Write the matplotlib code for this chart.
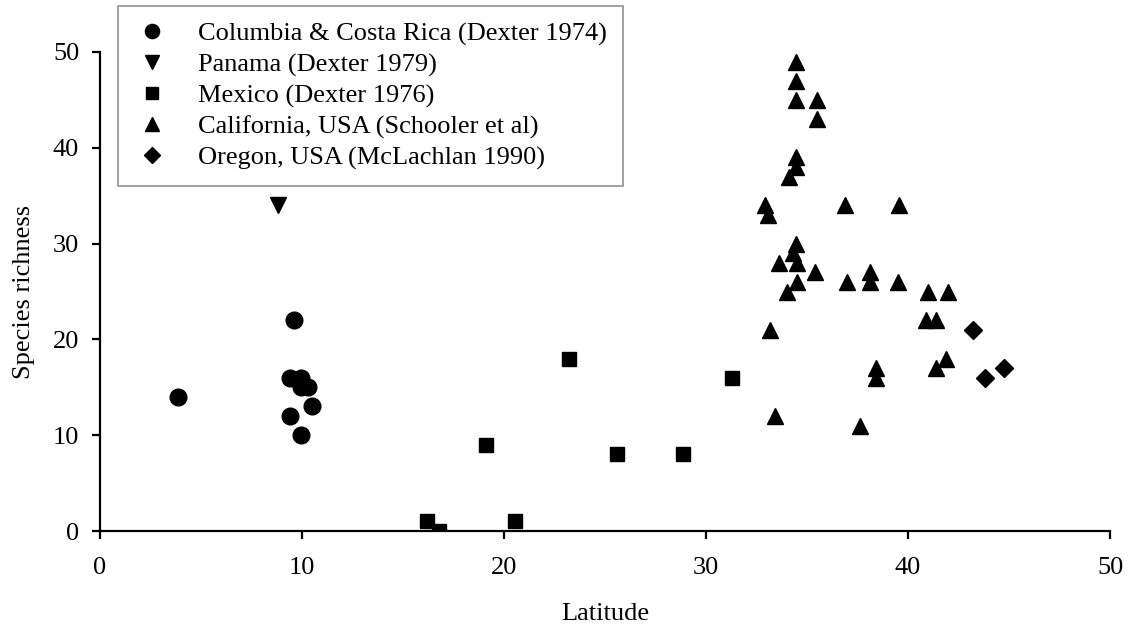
import matplotlib
matplotlib.use("Agg")
import matplotlib.pyplot as plt

plt.rcParams['font.family'] = ['Liberation Serif', 'DejaVu Serif']

# data
col_lat = [3.85, 9.6, 9.4, 9.95, 9.95, 10.3, 10.5, 9.4, 9.95]
col_rich = [14, 22, 16, 16, 15, 15, 13, 12, 10]

pan_lat = [8.8]
pan_rich = [34]

mex_lat = [16.2, 16.8, 19.1, 20.55, 23.2, 25.6, 28.85, 31.3]
mex_rich = [1, 0, 9, 1, 18, 8, 8, 16]

cal_lat = [34.45, 34.45, 34.45, 35.5, 35.5, 34.45, 34.45, 34.1, 32.9, 33.05,
           36.9, 39.55, 34.45, 34.3, 34.5, 33.6, 35.4, 34.5, 34.0, 37.0,
           38.1, 38.1, 39.5, 41.0, 42.0, 40.9, 41.4, 33.15, 41.9, 41.4,
           38.4, 38.4, 33.4, 37.6]
cal_rich = [49, 47, 45, 45, 43, 39, 38, 37, 34, 33,
            34, 34, 30, 29, 28, 28, 27, 26, 25, 26,
            27, 26, 26, 25, 25, 22, 22, 21, 18, 17,
            17, 16, 12, 11]

ore_lat = [43.2, 43.8, 44.75]
ore_rich = [21, 16, 17]

labels = ["Columbia & Costa Rica (Dexter 1974)", "Panama (Dexter 1979)",
          "Mexico (Dexter 1976)", "California, USA (Schooler et al)",
          "Oregon, USA (McLachlan 1990)"]

fs = 19

fig = plt.figure(figsize=(11.29, 6.25), dpi=100)
ax = fig.add_axes([0.0886, 0.1504, 0.8946, 0.7664])

ax.plot(col_lat, col_rich, 'o', color='black', ms=12, ls='none', label=labels[0])
ax.plot(pan_lat, pan_rich, 'v', color='black', ms=11.5, ls='none', label=labels[1])
ax.plot(mex_lat, mex_rich, 's', color='black', ms=9.7, ls='none', label=labels[2])
ax.plot(cal_lat, cal_rich, '^', color='black', ms=11.5, ls='none', label=labels[3])
ax.plot(ore_lat, ore_rich, 'D', color='black', ms=9, ls='none', label=labels[4])

ax.set_xlim(0, 50)
ax.set_ylim(0, 50)
ax.set_xticks([0, 10, 20, 30, 40, 50])
ax.set_yticks([0, 10, 20, 30, 40, 50])
ax.spines['top'].set_visible(False)
ax.spines['right'].set_visible(False)
for s in ['left', 'bottom']:
    ax.spines[s].set_linewidth(1.6)
ax.tick_params(direction='out', length=6, width=1.6, labelsize=fs)
ax.tick_params(axis='x', pad=13)
ax.tick_params(axis='y', pad=9)

ax.set_xlabel('Latitude', fontsize=fs, labelpad=17)
ax.set_ylabel('Species richness', fontsize=fs, labelpad=13)

leg = ax.legend(loc='upper left', bbox_to_anchor=(118 / 1129, 1 - 6 / 625),
                bbox_transform=fig.transFigure, fontsize=fs, frameon=True,
                fancybox=False, edgecolor='#777777', handletextpad=1.05,
                labelspacing=0.27, borderpad=0.6, handlelength=1.4,
                markerscale=0.85, borderaxespad=0)
leg.get_frame().set_linewidth(1.2)

fig.savefig('out.png', dpi=100)
